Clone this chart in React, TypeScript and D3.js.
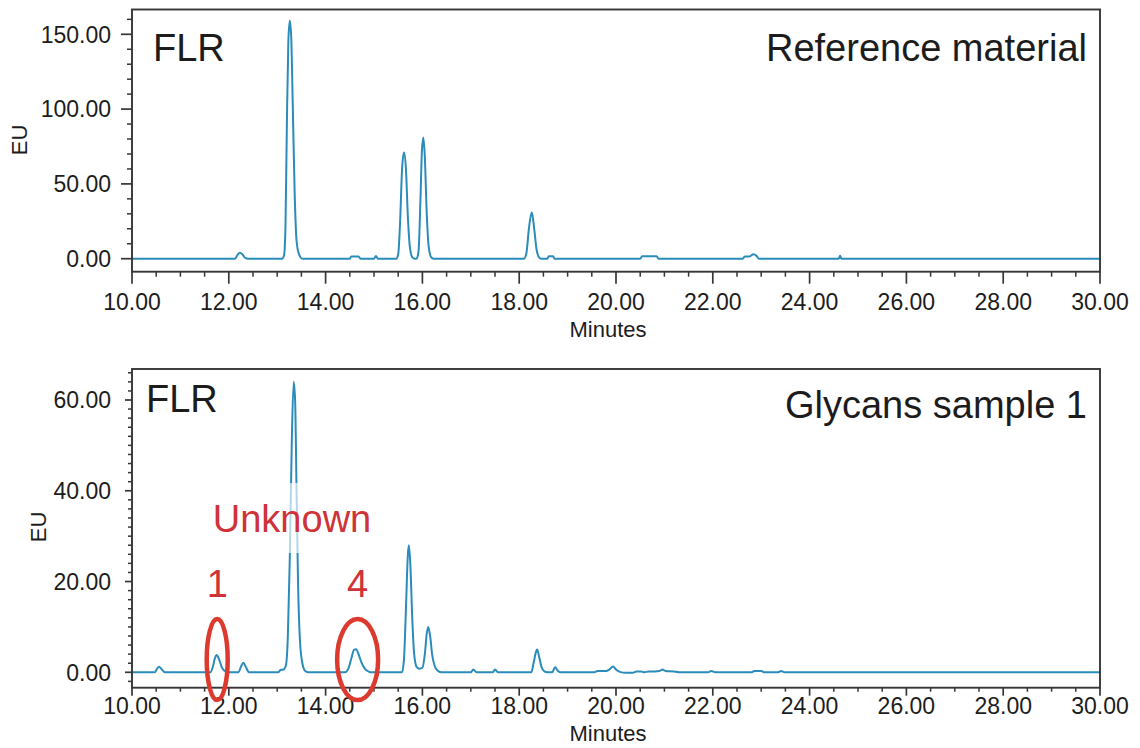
import React from 'react';
import * as d3 from 'd3';

// ---------- DATA ----------
const xMajorTicks = [10, 12, 14, 16, 18, 20, 22, 24, 26, 28, 30];
const refYMajorTicks = [0, 50, 100, 150];
const sampleYMajorTicks = [0, 20, 40, 60];

const refTitle = 'Reference material';
const sampleTitle = 'Glycans sample 1';
const detectorLabel = 'FLR';
const xAxisTitle = 'Minutes';
const yAxisTitle = 'EU';

// Reference material trace: [minutes, EU]
const refTrace: [number, number][] = [
  [10.0, 0], [12.13, 0], [12.18, 2.5], [12.23, 4.0], [12.28, 3.0], [12.34, 0.5], [12.4, 0],
  [13.1, 0], [13.14, 2], [13.17, 20], [13.2, 90], [13.23, 145], [13.26, 159], [13.29, 148],
  [13.32, 105], [13.36, 45], [13.4, 12], [13.45, 3], [13.52, 0],
  [14.5, 0], [14.53, 1.5], [14.68, 1.5], [14.72, 0],
  [15.0, 0], [15.04, 1.8], [15.08, 0],
  [15.46, 0], [15.5, 3], [15.54, 25], [15.58, 60], [15.62, 71], [15.66, 60], [15.7, 28],
  [15.74, 8], [15.79, 1], [15.84, 0],
  [15.88, 0], [15.92, 5], [15.96, 40], [15.99, 72], [16.02, 81], [16.05, 68], [16.09, 30],
  [16.13, 8], [16.18, 1], [16.23, 0],
  [18.1, 0], [18.15, 4], [18.2, 20], [18.26, 31], [18.31, 20], [18.36, 6], [18.42, 0.5], [18.46, 0],
  [18.58, 0], [18.61, 1.6], [18.7, 1.6], [18.73, 0],
  [20.5, 0], [20.54, 1.6], [20.84, 1.6], [20.88, 0],
  [22.62, 0], [22.66, 1.5], [22.76, 1.5], [22.84, 3.0], [22.9, 2.0], [22.95, 0],
  [24.6, 0], [24.63, 2.0], [24.66, 0],
  [30.0, 0],
];

// Glycans sample 1 trace: [minutes, EU]
const sampleTrace: [number, number][] = [
  [10.0, 0], [10.47, 0], [10.52, 0.8], [10.56, 1.2], [10.61, 0.7], [10.68, 0],
  [11.62, 0], [11.67, 1.2], [11.71, 3.0], [11.75, 3.8], [11.8, 2.8], [11.86, 1.0], [11.93, 0.2], [12.0, 0],
  [12.2, 0], [12.25, 1.2], [12.3, 2.1], [12.35, 1.2], [12.42, 0],
  [13.02, 0], [13.07, 0.5], [13.13, 0.6], [13.18, 1.5], [13.22, 8], [13.26, 25], [13.3, 50],
  [13.34, 64], [13.37, 60], [13.4, 40], [13.43, 20], [13.47, 7], [13.52, 2], [13.58, 0.3], [13.65, 0],
  [14.4, 0], [14.47, 0.8], [14.53, 3.0], [14.59, 5.0], [14.63, 5.1], [14.68, 4.0], [14.74, 2.2],
  [14.81, 0.8], [14.9, 0.1], [14.95, 0],
  [15.58, 0], [15.62, 3], [15.66, 14], [15.7, 26], [15.72, 28], [15.75, 24], [15.79, 12],
  [15.83, 4], [15.88, 1.2], [15.94, 0.8],
  [16.0, 1], [16.05, 4], [16.09, 8.5], [16.12, 10], [16.16, 8], [16.2, 4], [16.25, 1.5], [16.32, 0.3], [16.4, 0],
  [17.0, 0], [17.05, 0.6], [17.12, 0],
  [17.45, 0], [17.5, 0.6], [17.56, 0],
  [18.25, 0], [18.3, 2.2], [18.35, 4.6], [18.37, 5.0], [18.41, 3.5], [18.46, 1.2], [18.52, 0.2], [18.58, 0],
  [18.68, 0], [18.74, 1.1], [18.8, 0.3], [18.86, 0],
  [19.55, 0], [19.62, 0.3], [19.8, 0.3], [19.86, 0.6], [19.94, 1.3], [20.0, 0.6], [20.08, 0.1],
  [20.2, -0.1], [20.35, -0.1], [20.42, 0.2], [20.52, 0.2], [20.58, 0], [20.68, 0.2], [20.8, 0.2],
  [20.9, 0.3], [20.96, 0.6], [21.02, 0.3], [21.2, 0.2], [21.3, 0],
  [21.9, 0], [21.97, 0.3], [22.05, 0],
  [22.8, 0], [22.86, 0.3], [23.0, 0.3], [23.06, 0],
  [23.35, 0], [23.41, 0.3], [23.48, 0],
  [30.0, 0],
];

// Annotated unknown peaks (minutes, label)
const unknownPeaks: [number, string][] = [
  [11.75, '1'],
  [14.61, '4'],
];
const unknownLabel = 'Unknown';

// ---------- DRAWING ----------
const FONT = '"Liberation Sans", Arial, Helvetica, sans-serif';
const AXIS = '#363636';
const LINE = '#2a8cba';
const TEXT = '#1c1c1c';

const X0 = 132;
const X1 = 1100;
const x = d3.scaleLinear().domain([10, 30]).range([X0, X1]);
const xMinorTicks = d3.range(10, 30.001, 0.5).filter((t) => Math.abs(t % 2) > 1e-6);

type PanelProps = {
  id: string;
  trace: [number, number][];
  yMajor: number[];
  yMinor: number[];
  yScale: d3.ScaleLinear<number, number>;
  boxTop: number;
  boxBottom: number;
  yMajorLen: number;
  yMinorLen: number;
  xMajorLen: number;
  xMinorLen: number;
  xLabelBaseline: number;
  xTitleBaseline: number;
  yTitleX: number;
  yTitleY: number;
  flrBaseline: number;
  flrX: number;
  title: string;
  titleBaseline: number;
};

function Panel(p: PanelProps) {
  const line = d3
    .line<[number, number]>()
    .x((d) => x(d[0]))
    .y((d) => p.yScale(d[1]))
    .curve(d3.curveMonotoneX);
  return (
    <g>
      <defs>
        <clipPath id={`clip-${p.id}`}>
          <rect x={X0} y={p.boxTop} width={X1 - X0} height={p.boxBottom - p.boxTop} />
        </clipPath>
      </defs>
      <path
        d={line(p.trace) || ''}
        fill="none"
        stroke={LINE}
        strokeWidth={2}
        strokeLinejoin="round"
        clipPath={`url(#clip-${p.id})`}
      />
      <rect
        x={X0}
        y={p.boxTop}
        width={X1 - X0}
        height={p.boxBottom - p.boxTop}
        fill="none"
        stroke={AXIS}
        strokeWidth={1.9}
      />
      {/* y ticks */}
      {p.yMinor.map((v) => (
        <line key={`ym${v}`} x1={X0 - p.yMinorLen} x2={X0} y1={p.yScale(v)} y2={p.yScale(v)} stroke={AXIS} strokeWidth={1.5} />
      ))}
      {p.yMajor.map((v) => (
        <g key={`yM${v}`}>
          <line x1={X0 - p.yMajorLen} x2={X0} y1={p.yScale(v)} y2={p.yScale(v)} stroke={AXIS} strokeWidth={1.7} />
          <text
            x={111}
            y={p.yScale(v)}
            dy="0.36em"
            textAnchor="end"
            fontFamily={FONT}
            fontSize={23}
            fill={TEXT}
          >
            {v.toFixed(2)}
          </text>
        </g>
      ))}
      {/* x ticks */}
      {xMinorTicks.map((t) => (
        <line key={`xm${t}`} x1={x(t)} x2={x(t)} y1={p.boxBottom} y2={p.boxBottom + p.xMinorLen} stroke={AXIS} strokeWidth={1.5} />
      ))}
      {xMajorTicks.map((t) => (
        <g key={`xM${t}`}>
          <line x1={x(t)} x2={x(t)} y1={p.boxBottom} y2={p.boxBottom + p.xMajorLen} stroke={AXIS} strokeWidth={1.7} />
          <text x={x(t)} y={p.xLabelBaseline} textAnchor="middle" fontFamily={FONT} fontSize={23} fill={TEXT}>
            {t.toFixed(2)}
          </text>
        </g>
      ))}
      <text x={608} y={p.xTitleBaseline} textAnchor="middle" fontFamily={FONT} fontSize={22} fill={TEXT}>
        {xAxisTitle}
      </text>
      <text
        transform={`translate(${p.yTitleX},${p.yTitleY}) rotate(-90)`}
        textAnchor="middle"
        fontFamily={FONT}
        fontSize={22}
        fill={TEXT}
      >
        {yAxisTitle}
      </text>
      <text x={p.flrX} y={p.flrBaseline} fontFamily={FONT} fontSize={38} fill={TEXT}>
        {detectorLabel}
      </text>
      <text x={1087} y={p.titleBaseline} textAnchor="end" fontFamily={FONT} fontSize={38} fill={TEXT}>
        {p.title}
      </text>
    </g>
  );
}

export default function App() {
  const yRef = d3.scaleLinear().domain([0, 150]).range([258.7, 34.3]);
  const ySample = d3.scaleLinear().domain([0, 60]).range([672.3, 400]);
  const refMinor = d3.range(0, 161, 10).filter((v) => !refYMajorTicks.includes(v));
  const sampleMinor = d3.range(-2, 67, 2).filter((v) => !sampleYMajorTicks.includes(v));
  const RED_TEXT = '#cf3238';
  const RED_RING = '#dc3a2e';

  return (
    <svg
      width={1140}
      height={748}
      viewBox="0 0 1140 748"
      style={{ position: 'absolute', left: 0, top: 0, background: '#fff' }}
    >
      <rect width={1140} height={748} fill="#fff" />
      <Panel
        id="ref"
        trace={refTrace}
        yMajor={refYMajorTicks}
        yMinor={refMinor}
        yScale={yRef}
        boxTop={9.5}
        boxBottom={271.7}
        yMajorLen={11}
        yMinorLen={5}
        xMajorLen={12}
        xMinorLen={5}
        xLabelBaseline={310}
        xTitleBaseline={337}
        yTitleX={27}
        yTitleY={140}
        flrX={153}
        flrBaseline={61}
        title={refTitle}
        titleBaseline={61}
      />
      <Panel
        id="sample"
        trace={sampleTrace}
        yMajor={sampleYMajorTicks}
        yMinor={sampleMinor}
        yScale={ySample}
        boxTop={369}
        boxBottom={687.7}
        yMajorLen={7}
        yMinorLen={4}
        xMajorLen={8}
        xMinorLen={4}
        xLabelBaseline={714}
        xTitleBaseline={741}
        yTitleX={46}
        yTitleY={527}
        flrX={146}
        flrBaseline={412}
        title={sampleTitle}
        titleBaseline={418}
      />
      {/* Annotation */}
      <rect x={210} y={483} width={165} height={70} fill="#fff" opacity={0.65} />
      <text x={292} y={532} textAnchor="middle" fontFamily={FONT} fontSize={38} fill={RED_TEXT}>
        {unknownLabel}
      </text>
      {unknownPeaks.map(([t, label], i) => {
        const cx = x(t) + (i === 0 ? 0.5 : 2.5);
        const rx = i === 0 ? 10.5 : 20.5;
        return (
          <g key={label}>
            <text x={cx} y={597} textAnchor="middle" fontFamily={FONT} fontSize={38} fill={RED_TEXT}>
              {label}
            </text>
            <ellipse cx={cx} cy={ySample(2.8)} rx={rx} ry={40.5} fill="none" stroke={RED_RING} strokeWidth={4.5} />
          </g>
        );
      })}
    </svg>
  );
}
